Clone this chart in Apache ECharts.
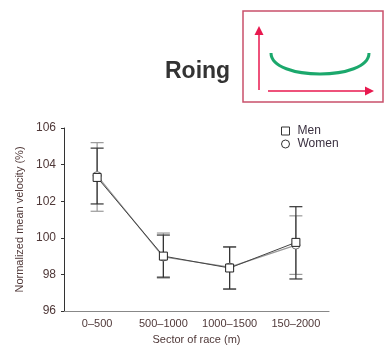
<!DOCTYPE html>
<html><head><meta charset="utf-8">
<script src="https://cdn.jsdelivr.net/npm/echarts@6/dist/echarts.min.js"></script>
<style>html,body{margin:0;padding:0;background:#fff}#c{width:385px;height:350px}</style>
</head><body><div id="c"></div>
<script>
var categories = ['0–500', '500–1000', '1000–1500', '150–2000'];
var menMean = [103.3, 99.0, 98.35, 99.75];
var womenMean = [103.4, 98.95, 98.4, 99.6];
var menLow = [101.85, 97.85, 97.2, 97.75];
var menHigh = [104.9, 100.15, 99.5, 101.7];
var womenLow = [101.45, 97.8, 97.2, 98.0];
var womenHigh = [105.2, 100.26, 99.5, 101.2];
var yTicks = [96, 98, 100, 102, 104, 106];

var labelColor = '#4f3838';
var ff = 'Liberation Sans, Arial, sans-serif';
function errData(lo, hi) { return categories.map(function (c, i) { return [i, lo[i], hi[i]]; }); }
function errRender(color) {
  return function (params, api) {
    var x = api.value(0);
    var lo = api.coord([x, api.value(1)]);
    var hi = api.coord([x, api.value(2)]);
    var w = 6.5;
    var st = { stroke: color, lineWidth: 1.2 };
    return { type: 'group', children: [
      { type: 'line', shape: { x1: lo[0], y1: lo[1], x2: hi[0], y2: hi[1] }, style: st },
      { type: 'line', shape: { x1: lo[0] - w, y1: lo[1], x2: lo[0] + w, y2: lo[1] }, style: st },
      { type: 'line', shape: { x1: hi[0] - w, y1: hi[1], x2: hi[0] + w, y2: hi[1] }, style: st }
    ]};
  };
}

var chart = echarts.init(document.getElementById('c'), null, { renderer: 'canvas' });
chart.setOption({
  animation: false,
  backgroundColor: '#fff',
  grid: { left: 64, right: 56, top: 128, bottom: 38 },
  legend: {
    orient: 'vertical', left: 276, top: 120, itemWidth: 8, itemHeight: 8, itemGap: 1,
    data: [{ name: 'Men', icon: 'rect' }, { name: 'Women', icon: 'circle' }],
    itemStyle: { color: '#fff', borderColor: '#333', borderWidth: 1 },
    textStyle: { fontFamily: ff, fontSize: 12, color: '#3a3040', padding: [0, 0, 0, 3] }
  },
  xAxis: {
    type: 'category', data: categories,
    name: 'Sector of race (m)', nameLocation: 'middle', nameGap: 23,
    nameTextStyle: { fontFamily: ff, fontSize: 11, color: labelColor },
    axisLine: { lineStyle: { color: '#888', width: 1.2 } },
    axisTick: { alignWithLabel: true, length: 3, lineStyle: { color: '#666' } },
    axisLabel: { interval: 0, margin: 7, fontFamily: ff, fontSize: 11, color: labelColor }
  },
  yAxis: {
    type: 'value', min: yTicks[0], max: yTicks[yTicks.length - 1], interval: 2,
    name: 'Normalized mean velocity (%)', nameLocation: 'middle', nameGap: 26,
    nameTextStyle: { fontFamily: ff, fontSize: 11, color: labelColor },
    axisLine: { show: true, lineStyle: { color: '#333', width: 1 } },
    axisTick: { show: true, length: 3, lineStyle: { color: '#333' } },
    splitLine: { show: false },
    axisLabel: { margin: 8, fontFamily: ff, fontSize: 12, color: labelColor }
  },
  series: [
    { type: 'custom', name: 'womenErr', data: errData(womenLow, womenHigh), renderItem: errRender('#999'), z: 2 },
    { type: 'custom', name: 'menErr', data: errData(menLow, menHigh), renderItem: errRender('#333'), z: 3 },
    { type: 'line', name: 'Women', data: womenMean, symbol: 'circle', symbolSize: 8,
      lineStyle: { color: '#999', width: 1.2 }, itemStyle: { color: '#fff', borderColor: '#777', borderWidth: 1 }, z: 4 },
    { type: 'line', name: 'Men', data: menMean, symbol: 'rect', symbolSize: 8,
      lineStyle: { color: '#444', width: 1 }, itemStyle: { color: '#fff', borderColor: '#222', borderWidth: 1 }, z: 5 }
  ],
  graphic: [
    { type: 'text', left: 165, top: 60, style: { text: 'Roing', font: 'bold 23px "Liberation Sans", Arial, sans-serif', fill: '#333' } },
    { type: 'rect', shape: { x: 243, y: 11, width: 140, height: 91 }, style: { fill: 'none', stroke: '#c9506b', lineWidth: 1.5 } },
    { type: 'line', shape: { x1: 259, y1: 90, x2: 259, y2: 33 }, style: { stroke: '#e8194f', lineWidth: 1.5 } },
    { type: 'polygon', shape: { points: [[259, 26], [254.5, 35], [263.5, 35]] }, style: { fill: '#e8194f' } },
    { type: 'line', shape: { x1: 268, y1: 91, x2: 366, y2: 91 }, style: { stroke: '#e8194f', lineWidth: 1.5 } },
    { type: 'polygon', shape: { points: [[374, 91], [365, 86.5], [365, 95.5]] }, style: { fill: '#e8194f' } },
    { type: 'bezierCurve', shape: { x1: 271, y1: 53, cpx1: 271, cpy1: 81, cpx2: 369, cpy2: 81, x2: 369, y2: 53 }, style: { stroke: '#1ba86c', lineWidth: 3, fill: 'none' } }
  ]
});
</script></body></html>
